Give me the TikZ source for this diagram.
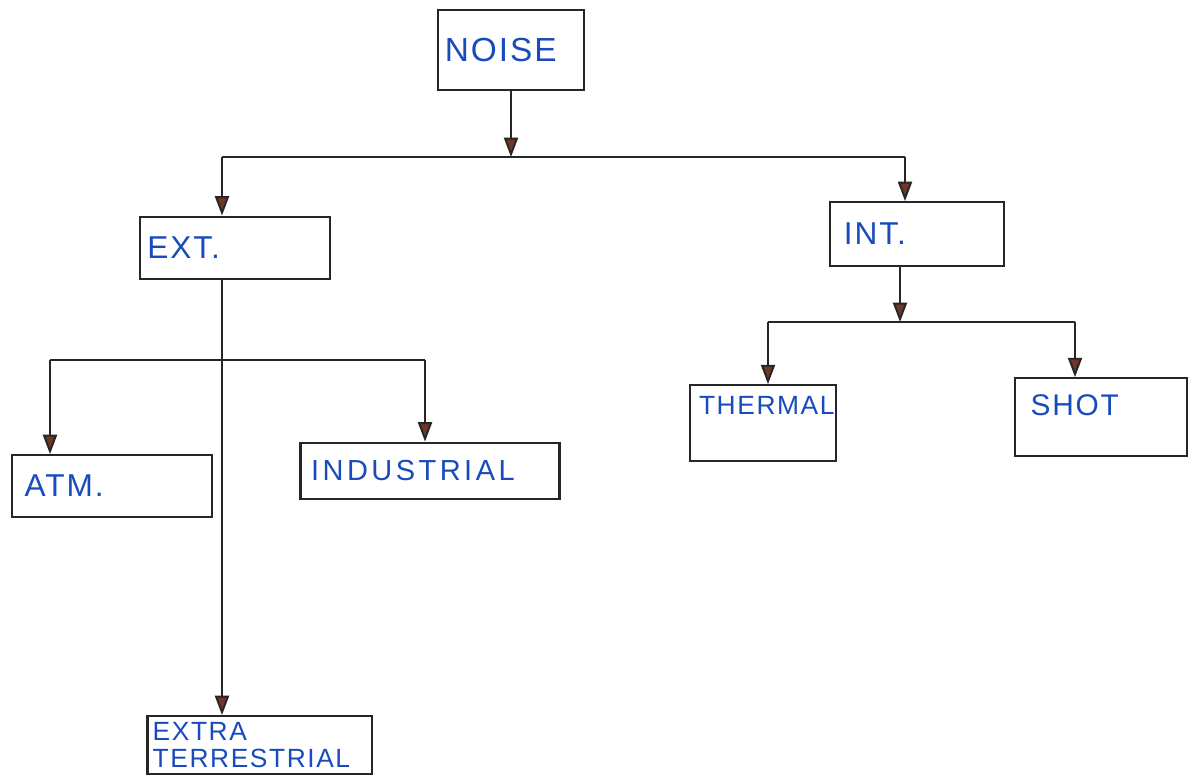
\documentclass[tikz,border=0pt]{standalone}
\usepackage{fontspec}
\newfontfamily\hand[LetterSpace=6]{Liberation Sans}
\usetikzlibrary{arrows.meta,calc}
\definecolor{ink}{RGB}{25,75,190}
\definecolor{tipbrown}{RGB}{110,55,40}
\begin{document}
\begin{tikzpicture}[x=0.02cm,y=-0.02cm,
  box/.style={draw=black!85, line width=1.2pt, rectangle, inner ysep=0pt, text=ink, align=left},
  sz/.style n args={3}{inner xsep=#3, minimum width=#1*0.5669pt, minimum height=#2*0.5669pt, text width=#1*0.5669pt-2*#3},
  wire/.style={draw=black!85, line width=1.1pt},
  arr/.style={wire, -{Triangle[length=11pt,width=8pt,fill=tipbrown]}}]
\useasboundingbox[fill=white] (0,0) rectangle (1202,776);

\node[box, sz={147}{80}{4pt}, font=\hand\fontsize{19}{22}\selectfont] (noise) at (511,50) {NOISE};
\node[box, sz={190}{63}{4pt}, font=\hand\fontsize{18}{21}\selectfont] (ext) at (235,248) {EXT.};
\node[box, sz={175}{64}{8pt}, font=\hand\fontsize{18}{21}\selectfont] (int) at (917,234) {INT.};
\node[box, sz={146}{76}{5pt}, text depth=20pt, font=\hand\fontsize{15}{18}\selectfont] (thermal) at (763,423) {THERMAL};
\node[box, sz={173}{78}{9pt}, text depth=14pt, font=\hand\fontsize{17}{20}\selectfont] (shot) at (1101,417) {SHOT};
\node[box, sz={200}{62}{7pt}, font=\hand\fontsize{18}{21}\selectfont] (atm) at (112,486) {ATM.};
\node[box, sz={260}{57}{6pt}, font=\hand\addfontfeature{LetterSpace=12}\fontsize{16.5}{20}\selectfont] (industrial) at (430,471) {INDUSTRIAL};
\node[box, sz={225}{58}{3pt}, font=\hand\fontsize{15}{15.5}\selectfont] (extra) at (259.5,745) {EXTRA\\TERRESTRIAL};

% level 1
\coordinate (j1) at (511,157);
\coordinate (b1L) at (222,157);
\coordinate (b1R) at (905,157);
\draw[arr] (noise.south) -- (j1);
\draw[wire] (b1L) -- (b1R);
\draw[arr] (b1L) -- (b1L |- ext.north);
\draw[arr] (b1R) -- (b1R |- int.north);

% internal branch
\coordinate (j2) at (900,322);
\coordinate (b2L) at (768,322);
\coordinate (b2R) at (1075,322);
\draw[arr] (int.south -| j2) -- (j2);
\draw[wire] (b2L) -- (b2R);
\draw[arr] (b2L) -- (b2L |- thermal.north);
\draw[arr] (b2R) -- (b2R |- shot.north);

% external branch
\coordinate (b3L) at (50,360);
\coordinate (b3R) at (425,360);
\draw[arr] (ext.south -| b1L) -- (extra.north -| b1L);
\draw[wire] (b3L) -- (b3R);
\draw[arr] (b3L) -- (b3L |- atm.north);
\draw[arr] (b3R) -- (b3R |- industrial.north);
\end{tikzpicture}
\end{document}
